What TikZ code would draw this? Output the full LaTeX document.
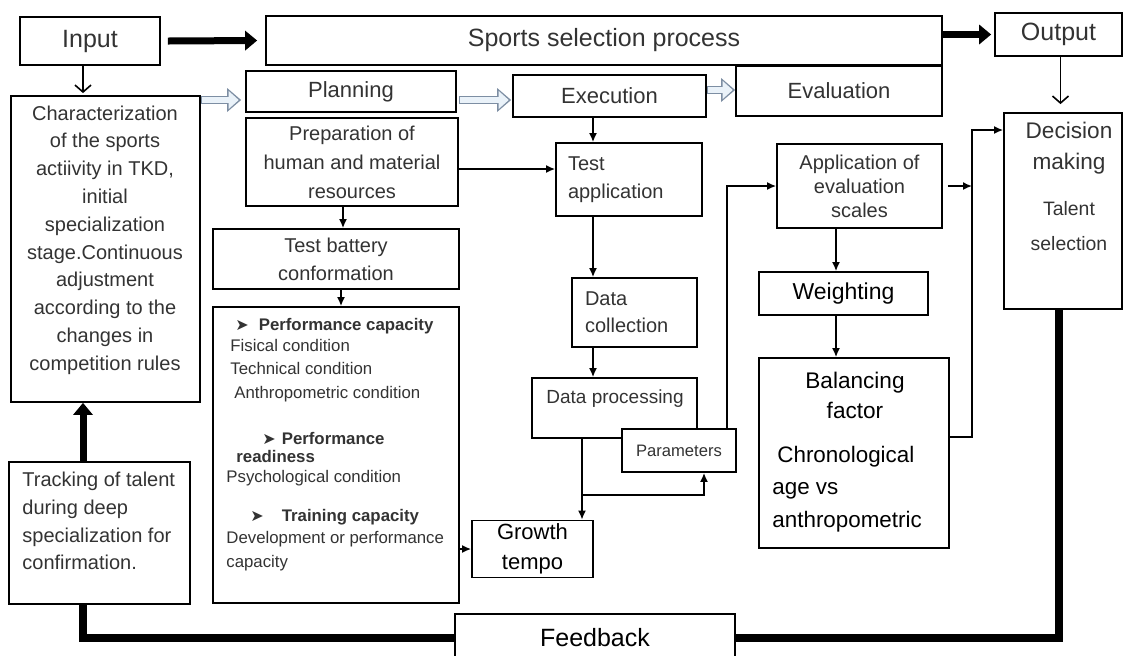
\documentclass[tikz,border=0pt]{standalone}
\usepackage{fontspec}
\setmainfont{Liberation Sans}
\newfontfamily\symfont{DejaVu Sans}
\usetikzlibrary{arrows.meta}
\newcommand{\fsz}[2]{\fontsize{#1}{#2}\selectfont}
\definecolor{hollowedge}{HTML}{7D8EA3}
\definecolor{hollowfill}{HTML}{EAF2F9}
\tikzset{>={Latex[length=4.5pt,width=4pt]}}
\tikzset{
  box/.style={draw,line width=0.9pt,inner sep=0pt,fill=white,align=center,text=black!80},
  boxsize/.style 2 args={minimum width=#1,minimum height=#2},
  txt/.style={inner sep=0pt,text=black!80},
  link/.style={->,line width=0.8pt},
  openlink/.style={-{Straight Barb[length=3.5pt,width=8pt]},line width=0.8pt},
  heavy/.style={line width=4pt,line join=miter},
  heavylink/.style={-{Triangle[length=6pt,width=10pt,line width=0pt]},line width=3.5pt},
  hollow/.style={draw=hollowedge,line width=4.4pt,-{Triangle[length=7pt,width=12pt,line width=0pt]},
    postaction={draw=hollowfill,line width=2.8pt,-{Triangle[length=5pt,width=9pt,line width=0pt]},
      shorten >=1.2pt,shorten <=0.6pt}}
}

\begin{document}
\begin{tikzpicture}[x=0.5pt,y=-0.5pt]
\useasboundingbox (0,0) rectangle (1124,655);
% top row
\node[box,boxsize={70pt}{24pt},font=\fsz{12.5}{15}] (input) at (90,41) {Input};
\node[box,boxsize={338pt}{24.5pt},font=\fsz{12.5}{15}] (sports) at (604,40.5) {Sports selection process};
\node[box,boxsize={63.5pt}{21.5pt},font=\fsz{12.5}{15}] (output) at (1058.5,34.5) {Output};
\node[box,boxsize={105pt}{20.5pt},font=\fsz{11}{14}] (planning) at (351,91.5) {Planning};
\node[box,boxsize={96.5pt}{21pt},font=\fsz{11}{14}] (execution) at (609.5,96) {Execution};
\node[box,boxsize={103pt}{25pt},font=\fsz{11}{14}] (evaluation) at (839,91) {Evaluation};

% left column
\node[box,boxsize={94.5pt}{153pt}] (charbox) at (105.5,249) {};
\node[txt,align=center,font=\fsz{10}{13.9}] (chartext) at (105,240)
  {Characterization\\of the sports\\actiivity in TKD,\\initial\\specialization\\stage.Continuous\\adjustment\\according to the\\changes in\\competition rules};
\node[box,boxsize={90.5pt}{71pt}] (tracking) at (99.5,533) {};
\node[txt,anchor=west,align=left,font=\fsz{10}{13.9}] (tracktext) at (22,521)
  {Tracking of talent\\during deep\\specialization for\\confirmation.};

% planning column
\node[box,boxsize={106pt}{44pt},font=\fsz{10}{14.5}] (prep) at (352,162) {Preparation of\\human and material\\resources};
\node[box,boxsize={123pt}{30pt},font=\fsz{10}{14}] (testbattery) at (336,259) {Test battery\\conformation};
\node[box,boxsize={123pt}{148pt}] (listbox) at (336,455) {};
\node[txt,anchor=north west,align=left,font=\fsz{8.4}{11.5}] (listtext) at (226,318)
  {\hspace{4.5pt}{\symfont\fsz{8}{11.5}➤}\hspace{5pt}\textbf{Performance capacity}\\[-1pt]
   \hspace{2pt}Fisical condition\\
   \hspace{2pt}Technical condition\\[0.5pt]
   \hspace{4pt}Anthropometric condition\\[11.5pt]
   \hspace{18pt}{\symfont\fsz{8}{11.5}➤}\hspace{3pt}\textbf{Performance}\\[-2.5pt]
   \hspace{5pt}\textbf{readiness}\\[-1.5pt]
   Psychological condition\\[8pt]
   \hspace{12pt}{\symfont\fsz{8}{11.5}➤}\hspace{9pt}\textbf{Training capacity}\\[-0.5pt]
   Development or performance\\[0.5pt]
   capacity};

% execution column
\node[box,boxsize={73pt}{36.5pt},font=\fsz{10}{14},align=left,text width=61pt] (testapp) at (629,179.5) {Test\\application};
\node[box,boxsize={62.5pt}{34.5pt},font=\fsz{10}{13.5},align=left,text width=49.5pt] (datacoll) at (634.5,312.5) {Data\\collection};
\node[box,boxsize={82.5pt}{30pt}] (dataproc) at (614.5,408) {};
\node[txt,font=\fsz{9.5}{11}] (dptext) at (615,399) {Data processing};
\node[box,boxsize={57pt}{21.5pt},font=\fsz{8.3}{10}] (parameters) at (679,450.5) {Parameters};
\node[box,boxsize={60.5pt}{28.5pt},font=\fsz{11}{15},text=black] (growth) at (532.5,549) {Growth\\tempo};

% evaluation column
\node[box,boxsize={82.5pt}{42pt},font=\fsz{10}{12}] (application) at (859.5,186) {Application of\\evaluation\\scales};
\node[box,boxsize={84.5pt}{21.5pt},font=\fsz{11.5}{14},text=black] (weighting) at (843.5,293.5) {Weighting};
\node[box,boxsize={95pt}{95pt}] (balancing) at (854,453) {};
\node[txt,align=center,font=\fsz{11.3}{15},text=black] (baltext) at (855,395) {Balancing\\factor};
\node[txt,anchor=west,align=left,font=\fsz{11.2}{16.3},text=black] (chrontext) at (772,489)
  {\hspace{2.5pt}Chronological\\age vs\\anthropometric};

% output column
\node[box,boxsize={59pt}{98pt}] (decision) at (1063,211) {};
\node[txt,align=center,font=\fsz{11.3}{15.5}] (dectext) at (1069,148) {Decision\\making};
\node[txt,align=center,font=\fsz{9.7}{17.5}] (taltext) at (1069,226) {Talent\\selection};
\node[box,boxsize={140pt}{24pt},font=\fsz{12.5}{15},text=black] (feedback) at (595,638) {Feedback};

% helper points
\coordinate (hl) at (0,100);
\coordinate (hl2) at (0,90);
\coordinate (fork) at (582,495);
\coordinate (riser) at (972,130);

% connectors
\draw[heavylink] ([xshift=3.5pt]input.east) -- ([xshift=-4pt]sports.west);
\draw[heavylink] (sports.east |- output) -- ([xshift=-1.5pt]output.west);
\draw[openlink] ([xshift=-3.5pt]input.south) -- ([xshift=-3.5pt,yshift=1pt]input.south |- charbox.north);
\draw[openlink] ([xshift=1pt]output.south) -- ([xshift=1pt,yshift=4pt]output.south |- decision.north);
\draw[hollow] (charbox.east |- hl) -- ([xshift=-2pt]planning.west |- hl);
\draw[hollow] ([xshift=1pt]planning.east |- hl) -- ([xshift=-0.5pt]execution.west |- hl);
\draw[hollow] (execution.east |- hl2) -- (evaluation.west |- hl2);
\draw[link] ([xshift=-4.5pt]prep.south) -- ([xshift=-4.5pt]prep.south |- testbattery.north);
\draw[link] ([xshift=2.5pt]testbattery.south) -- ([xshift=2.5pt]testbattery.south |- listbox.north);
\draw[link] ([yshift=-3.5pt]prep.east) -- ([yshift=-3.5pt]prep.east -| testapp.west);
\draw[link] ([xshift=-8.25pt]execution.south) -- ([xshift=-8.25pt]execution.south |- testapp.north);
\draw[link] ([xshift=-18pt]testapp.south) -- ([xshift=-18pt]testapp.south |- datacoll.north);
\draw[link] ([xshift=-20.75pt]datacoll.south) -- ([xshift=-20.75pt]datacoll.south |- dataproc.north);
\draw[link] ([xshift=-16.25pt]dataproc.south) -- ([xshift=-16.25pt]dataproc.south |- growth.north);
\draw[link] (fork) -| ([xshift=12.5pt]parameters.south);
\draw[link] ([xshift=24pt]parameters.north) |- (application.west);
\draw[link] (listbox.east |- growth) -- (growth.west);
\draw[link] ([xshift=-11.75pt]application.south) -- ([xshift=-11.75pt]application.south |- weighting.north);
\draw[link] ([xshift=-3.75pt]weighting.south) -- ([xshift=-3.75pt]weighting.south |- balancing.north);
\draw[link] ([yshift=8pt]balancing.east) -| (riser) -- (riser -| decision.west);
\draw[link] ([xshift=2.5pt]application.east) -- (application.east -| riser);
\draw[heavy] ([xshift=-2pt]decision.south) |- (feedback.east);
\draw[heavy] (feedback.west) -| ([xshift=-8.25pt]tracking.south);
\draw[heavylink] ([xshift=-8.25pt]tracking.north) -- ([xshift=-8.25pt]tracking.north |- charbox.south);
\end{tikzpicture}
\end{document}
